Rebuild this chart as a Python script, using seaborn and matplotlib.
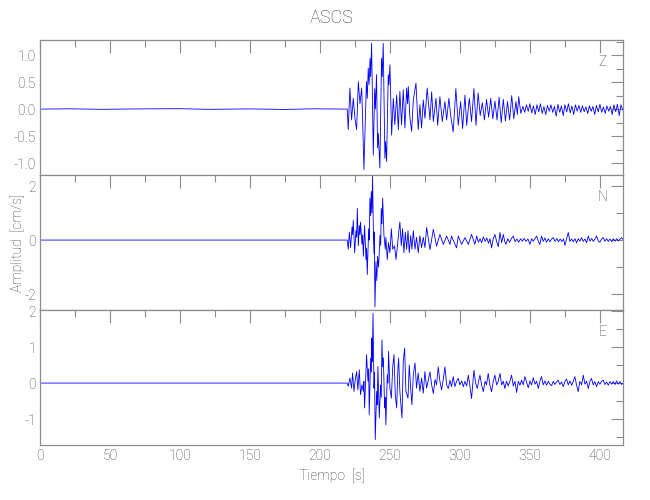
import matplotlib
matplotlib.use("Agg")
import matplotlib.pyplot as plt
from matplotlib.ticker import MultipleLocator, FormatStrFormatter
import numpy as np
import pandas as pd
import seaborn as sns

# station and component names
station = "ASCS"
components = ["Z", "N", "E"]

# Z component: times [s] and amplitudes [cm/s] (peaks / troughs)
z_time = [0, 20, 45, 70, 100, 120, 150, 175, 195, 219.5,
          220.2, 221.4, 222.6, 223.8, 225.0, 226.2, 227.4, 228.6, 229.8, 230.5,
          231.4, 233.2, 233.8, 234.5, 235.1, 235.8, 236.2, 236.9, 238.1, 239.1,
          239.6, 240.4, 241.2, 241.7, 242.8, 244.0, 244.5, 245.2, 246.4, 246.9,
          247.6, 248.8, 249.3, 250.0, 251.2, 252.4, 253.5, 254.8, 256.0, 257.1,
          258.3, 259.5, 260.7, 261.9, 262.6, 263.1, 264.3, 265.5, 266.7, 268.6,
          270.2, 271.4, 272.6, 273.8, 275.0, 276.6, 278.6, 279.8, 281.0, 282.9,
          284.1, 285.7, 287.4, 289.3, 290.5, 292.1, 293.5, 295.2, 297.1, 298.8,
          300.5, 301.9, 303.6, 304.8, 306.7, 308.3, 310.0, 311.5, 313.0, 314.5,
          316.0, 317.5, 319.0, 320.5, 322.0, 323.5, 325.0, 326.5, 328.0, 329.5,
          331.0, 332.5, 334.0, 335.5, 337.0, 338.5, 340.0, 341.0, 342.0, 343.5,
          345.0, 346.3, 347.5, 348.8, 350.0, 351.3, 352.5, 353.8, 355.0, 356.3,
          357.5, 358.8, 360.0, 361.3, 362.5, 363.8, 365.0, 366.3, 367.5, 368.8,
          370.0, 371.3, 372.5, 373.8, 375.0, 376.3, 377.5, 378.8, 380.0, 381.3,
          382.5, 383.8, 385.0, 386.3, 387.5, 388.8, 390.0, 391.3, 392.5, 393.8,
          395.0, 396.3, 397.5, 398.8, 400.0, 401.3, 402.5, 403.8, 405.0, 406.3,
          407.5, 408.8, 410.0, 411.3, 412.5, 413.8, 415.0, 416.5]
z_amp = [0, 0.006, -0.004, 0.004, 0.008, -0.004, 0.004, -0.006, 0.006, 0,
         -0.38, 0.39, -0.2, 0.2, -0.17, -0.38, 0.51, 0.1, 0.39, -0.2,
         -1.12, 0.51, 0.2, 0.76, 0.45, 0.94, 0.6, 1.22, -0.85, 0.38,
         0.0, 0.64, -0.72, -0.45, -1.09, 0.94, 0.6, 1.22, -0.91, -0.6,
         -0.97, 0.64, 0.45, 0.82, -0.48, 0.2, -0.29, 0.26, -0.38, 0.33,
         -0.29, 0.36, -0.35, 0.39, 0.1, 0.42, -0.17, -0.41, 0.17, 0.48,
         -0.38, 0.08, -0.35, 0.17, -0.17, 0.39, -0.2, 0.32, -0.23, 0.2,
         -0.3, 0.23, -0.23, 0.14, -0.2, 0.2, -0.14, -0.42, 0.38, -0.3,
         0.14, -0.36, 0.26, -0.3, 0.2, -0.23, 0.38, -0.3, 0.3, -0.12,
         0.12, -0.2, 0.18, -0.15, 0.2, -0.18, 0.15, -0.2, 0.22, -0.25,
         0.18, -0.22, 0.14, -0.2, 0.25, -0.18, 0.14, -0.1, 0.23, -0.08,
         0.05, -0.06, 0.08, -0.04, 0.1, -0.07, 0.06, -0.1, 0.08, -0.05,
         0.1, -0.08, 0.05, -0.1, 0.07, -0.04, 0.08, -0.06, 0.05, -0.13,
         0.09, -0.06, 0.06, -0.12, 0.08, -0.05, 0.1, -0.07, 0.06, -0.1,
         0.08, -0.04, 0.07, -0.06, 0.06, -0.05, 0.04, -0.08, 0.06, -0.04,
         0.05, -0.1, 0.07, -0.05, 0.09, -0.06, 0.04, -0.08, 0.06, -0.04,
         0.05, -0.1, 0.08, -0.05, 0.09, -0.12, 0.08, -0.02]

# N component
n_time = [0, 219.5,
          220.2, 221.0, 221.9, 222.9, 223.3, 223.8, 224.8, 225.7, 226.2, 226.7,
          227.4, 228.1, 228.6, 229.0, 230.0, 230.5, 231.0, 231.9, 232.9, 233.3,
          233.8, 234.8, 235.2, 235.7, 236.2, 236.7, 237.1, 237.6, 238.1, 238.6,
          238.8, 239.3, 240.0, 240.6, 241.2, 241.9, 242.9, 243.4, 243.8, 244.3,
          244.8, 245.7, 246.7, 247.1, 248.1, 249.0, 250.0, 251.0, 252.0, 253.3,
          254.3, 255.2, 256.0, 257.1, 258.1, 259.0, 260.0, 261.0, 261.9, 262.9,
          263.8, 264.8, 265.7, 266.7, 267.9, 269.0, 270.2, 271.4, 272.6, 273.8,
          275.0, 276.2, 278.6, 281.0, 283.3, 285.7, 288.1, 290.5, 292.9, 294.0,
          297.6, 298.8, 301.2, 303.6, 306.0, 308.3, 310.7,
          312.0, 313.2, 314.4, 315.5, 316.7, 318.0, 319.2, 320.4, 321.5, 322.6,
          323.8, 325.0, 326.2, 327.4, 328.6, 329.8, 331.0, 332.0, 332.9, 334.2,
          335.5, 336.8, 338.1, 339.4, 340.7, 342.0, 343.3, 344.6, 345.9, 347.2,
          348.6, 350.0, 351.2, 352.4, 353.6, 354.8, 356.0, 357.1, 358.3, 359.5,
          360.7, 361.9, 363.1, 364.3, 365.5, 366.7, 368.0, 369.2, 370.4, 371.6,
          372.8, 374.0, 375.0, 376.2, 377.4, 378.6, 379.8, 381.0, 382.2, 383.3,
          384.5, 385.7, 386.9, 388.1, 389.3, 390.5, 391.7, 392.9, 394.1, 395.3,
          396.5, 397.6, 398.8, 400.0, 401.2, 402.4, 403.6, 404.8, 406.0, 407.2,
          408.4, 409.6, 410.8, 412.0, 413.2, 414.4, 415.5, 416.5]
n_amp = [0, 0,
         -0.34, 0.29, -0.28, 0.48, 0.2, 0.73, -0.47, 0.35, 0.1, 1.17,
         -0.21, 0.54, 0.2, 0.67, -0.15, 0.2, -0.6, 0.54, -0.72, -0.3,
         -1.28, 0.42, 0.0, 1.55, 0.9, 1.8, 1.0, 2.36, 0.5, -0.5,
         0.3, -2.48, -0.8, -1.5, -0.6, -1.0, 0.17, -0.2, 1.17, 0.6,
         1.55, 0.2, -0.34, 0.1, -0.72, -0.09, -0.47, 0.42, -0.34, -0.21,
         -0.72, -0.3, 0.16, 0.67, -0.21, 0.42, -0.47, 0.29, -0.34, 0.35,
         -0.47, 0.16, -0.34, 0.35, -0.34, 0.1, -0.47, 0.16, -0.28, 0.1,
         -0.28, 0.47, -0.35, 0.4, -0.23, 0.21, -0.16, 0.15, -0.16, 0.15,
         -0.29, 0.15, -0.16, 0.09, -0.16, 0.21, -0.16,
         0.15, -0.08, 0.05, -0.1, 0.12, -0.05, 0.08, -0.12, 0.05, -0.29,
         0.05, 0.21, -0.05, -0.25, 0.28, -0.1, 0.21, -0.05, -0.16, 0.05,
         -0.08, 0.06, 0.15, -0.06, 0.04, -0.08, 0.05, -0.04, 0.06, -0.05,
         0.04, -0.16, 0.05, -0.04, 0.05, 0.15, -0.04, -0.16, 0.15, -0.05,
         0.08, -0.08, 0.05, -0.06, 0.04, 0.09, -0.05, 0.06, -0.06, 0.04,
         -0.05, 0.04, -0.2, 0.05, 0.28, -0.05, 0.04, -0.06, 0.05, -0.1,
         0.05, -0.04, 0.09, -0.05, 0.04, -0.1, 0.15, -0.04, 0.06, -0.05,
         0.04, 0.15, -0.03, -0.08, 0.04, 0.09, -0.04, 0.05, -0.05, 0.04,
         -0.06, 0.05, -0.04, 0.05, -0.03, 0.04, 0.09, 0.02]

# E component
e_time = [0, 219.5,
          220.2, 221.4, 222.6, 223.3, 224.3, 225.2, 226.2, 227.1, 228.1, 229.0,
          230.0, 231.0, 231.4, 231.9, 233.3, 234.3, 234.8, 235.2, 236.2, 236.7,
          237.1, 237.4, 237.9, 238.6, 239.0, 239.5, 240.5, 240.9, 241.4, 242.4,
          243.3, 243.8, 244.3, 244.8, 245.3, 246.2, 246.6, 247.1, 248.1, 248.6,
          249.0, 250.0, 251.0, 252.0, 252.9, 253.8, 254.8, 255.7, 256.2, 257.1,
          258.6, 259.5, 260.5, 261.4, 262.9, 263.8, 264.8, 265.7, 266.7, 267.9,
          269.0, 270.2, 271.4, 272.6, 273.8, 275.0, 276.2, 277.4,
          278.6, 279.8, 281.0, 282.2, 283.3, 284.5, 285.7, 286.9, 288.1, 289.3,
          290.5, 291.7, 292.9, 294.0, 295.2, 296.4, 297.6, 298.8, 300.0, 301.2,
          302.4, 303.6, 304.8, 306.0, 307.2, 308.3, 310.0, 311.2, 312.4, 313.3,
          314.3, 315.5, 316.7, 318.0, 319.0, 320.2, 321.4, 322.6, 323.8, 325.0,
          326.2, 327.4, 328.6, 329.8, 331.0, 332.1, 333.3, 334.5, 335.7, 336.9,
          338.1, 339.3, 340.5, 341.7, 342.9, 344.0, 345.2, 346.4, 347.6, 348.8,
          350.0, 351.2, 352.4, 353.6, 354.8, 356.0, 357.1, 358.3, 359.5, 360.7,
          361.9, 363.1, 364.3, 365.5, 366.7, 367.9, 369.0, 370.2, 371.4, 372.6,
          373.8, 375.0, 376.2, 377.4, 378.6, 379.8, 381.0, 382.1, 383.3, 384.5,
          385.7, 386.9, 388.1, 389.3, 390.5, 391.7, 392.9, 394.0, 395.2, 396.4,
          397.6, 398.8, 400.0, 401.2, 402.4, 403.6, 404.8, 406.0, 407.2, 408.4,
          409.6, 410.8, 411.9, 413.1, 414.3, 415.5, 416.5]
e_amp = [0, 0,
         -0.09, 0.14, -0.14, 0.28, -0.23, 0.09, 0.32, -0.19, 0.37, -0.32,
         -0.05, -0.23, 0.05, -0.69, 0.79, 0.05, 0.4, -0.88, 0.69, 0.3,
         1.25, 0.6, 1.94, -0.14, 0.3, -1.57, -0.23, -0.6, 0.46, -0.97,
         -0.05, -0.4, 1.2, 0.45, 0.7, -0.69, -0.4, -1.16, 0.23, 0.0,
         0.88, -0.14, -0.42, 0.46, 0.79, -0.32, -0.69, 0.42, 0.69, -0.23,
         -0.97, 0.6, 0.97, -0.23, -0.42, 0.5, -0.14, -0.6, 0.23, 0.56,
         -0.14, 0.28, -0.23, 0.14, -0.28, 0.32, -0.14, 0.09,
         0.31, -0.05, -0.29, 0.1, -0.05, 0.45, 0.05, -0.19, 0.1, 0.45,
         -0.05, -0.15, 0.08, -0.1, 0.18, -0.1, 0.05, 0.13, -0.05, 0.06,
         -0.1, 0.05, -0.08, 0.22, -0.1, -0.43, 0.36, 0.0, -0.15, 0.05,
         0.22, -0.05, -0.24, 0.05, -0.05, 0.27, -0.05, -0.24, 0.05, 0.22,
         -0.05, 0.05, 0.27, -0.05, 0.05, -0.15, 0.05, -0.08, 0.05, 0.22,
         -0.08, 0.05, -0.26, 0.05, -0.06, 0.08, -0.05, 0.18, 0.02, -0.13,
         0.06, -0.05, 0.15, -0.03, 0.05, -0.15, 0.05, 0.18, -0.05, 0.06,
         -0.06, 0.05, -0.03, -0.07, 0.05, -0.04, 0.03, 0.08, -0.04, 0.03,
         -0.1, 0.04, 0.11, -0.05, 0.06, -0.06, 0.05, 0.18, -0.05, -0.24,
         0.05, -0.05, 0.22, -0.03, 0.05, -0.15, 0.05, 0.13, -0.05, 0.04,
         -0.1, 0.04, -0.03, 0.05, 0.08, -0.04, 0.03, -0.06, 0.04, -0.03,
         0.04, -0.04, 0.06, -0.03, 0.04, -0.04, 0.0]

traces = {"Z": (z_time, z_amp), "N": (n_time, n_amp), "E": (e_time, e_amp)}
y_limits = {"Z": (-1.22, 1.28), "N": (-2.59, 2.41), "E": (-1.72, 2.03)}
y_major = {"Z": 0.5, "N": 2, "E": 1}
y_minor = {"Z": 0.25, "N": 1, "E": 0.5}
y_fmt = {"Z": "%.1f", "N": "%d", "E": "%d"}

sns.set_style("white")
text_color = "#3c3c3c"
frame_color = "#8c8c8c"
plt.rcParams["font.family"] = ["Roboto", "DejaVu Sans"]
plt.rcParams["font.weight"] = "light"
plt.rcParams["text.color"] = text_color
plt.rcParams["axes.labelcolor"] = text_color
plt.rcParams["axes.labelweight"] = "light"
plt.rcParams["axes.titleweight"] = "light"
plt.rcParams["xtick.color"] = frame_color
plt.rcParams["ytick.color"] = frame_color
plt.rcParams["xtick.labelcolor"] = text_color
plt.rcParams["ytick.labelcolor"] = text_color

fig = plt.figure(figsize=(6.5, 5.0), dpi=100)
left, width, height = 40 / 650, 583 / 650, 135 / 500
bottoms = [325 / 500, 190 / 500, 55 / 500]

axes = []
for comp, bottom in zip(components, bottoms):
    ax = fig.add_axes([left, bottom, width, height])
    t, v = traces[comp]
    df = pd.DataFrame({"t": t, "v": v})
    sns.lineplot(data=df, x="t", y="v", ax=ax, color="#0000ff", linewidth=0.6,
                 sort=False, estimator=None)
    ax.set_xlim(0, 416.5)
    ax.set_ylim(*y_limits[comp])
    ax.xaxis.set_major_locator(MultipleLocator(50))
    ax.xaxis.set_minor_locator(MultipleLocator(25))
    ax.yaxis.set_major_locator(MultipleLocator(y_major[comp]))
    ax.yaxis.set_minor_locator(MultipleLocator(y_minor[comp]))
    ax.yaxis.set_major_formatter(FormatStrFormatter(y_fmt[comp]))
    ax.tick_params(which="both", direction="in", top=True, right=True,
                   labelsize=10, width=0.8, pad=3)
    ax.tick_params(which="major", length=9)
    ax.tick_params(which="minor", length=5)
    for sp in ax.spines.values():
        sp.set_color(frame_color)
        sp.set_linewidth(0.9)
    ax.set_xlabel("")
    ax.set_ylabel("")
    ax.text(0.965, 0.84, comp, transform=ax.transAxes, ha="center", va="center",
            fontsize=10, color=text_color)
    if comp != "E":
        ax.tick_params(labelbottom=False)
    axes.append(ax)

axes[0].set_title(station, fontsize=13, color=text_color, pad=12)
axes[1].set_ylabel("Amplitud  [cm/s]", fontsize=10)
axes[1].yaxis.set_label_coords(-0.025, 0.5)
axes[2].set_xlabel("Tiempo  [s]", fontsize=10, labelpad=4)

fig.savefig("out.png", dpi=100)
